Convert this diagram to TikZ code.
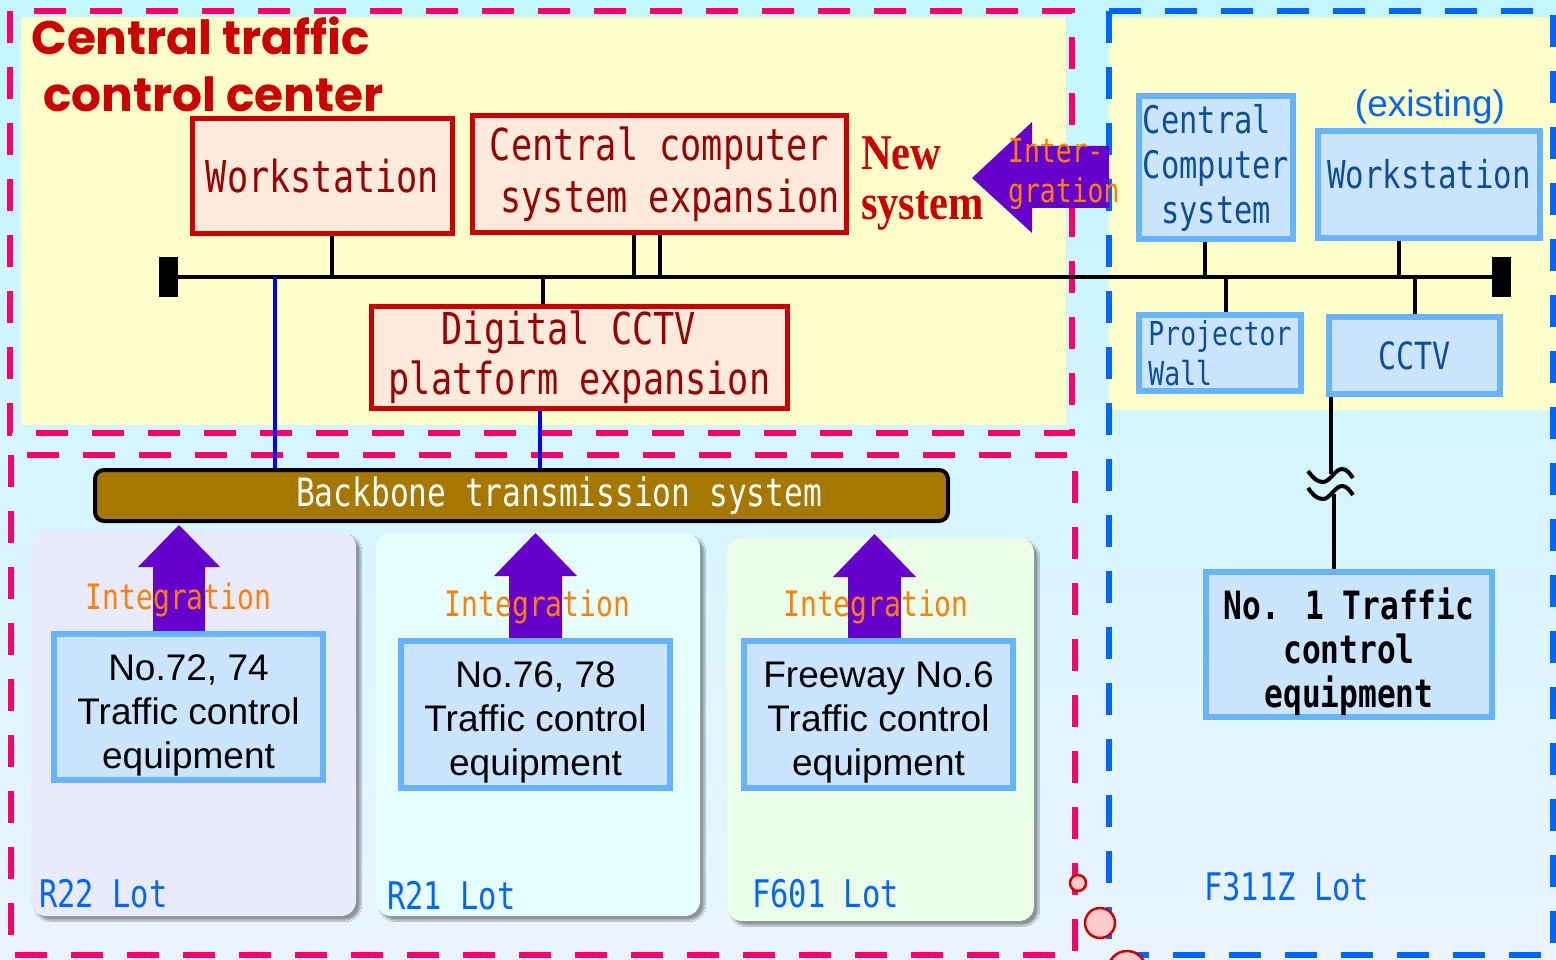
\documentclass[tikz,border=0pt]{standalone}
\usepackage{fontspec}
\usetikzlibrary{calc,shadows.blur}

\newfontfamily\gothic[FakeStretch=0.8]{DejaVu Sans Mono}
\newfontfamily\rounded{Poppins}
\newfontfamily\serifcond[FakeStretch=0.85]{Liberation Serif}
\newfontfamily\arialfont{Liberation Sans}

\definecolor{zonered}{HTML}{FF0066}
\definecolor{zoneblue}{HTML}{0066FF}
\definecolor{paleyellow}{HTML}{FFFFCC}
\definecolor{boxred}{HTML}{CC0000}
\definecolor{redfill}{HTML}{FFEBDB}
\definecolor{redtext}{HTML}{990000}
\definecolor{bluefill}{HTML}{CCE5FF}
\definecolor{blueedge}{HTML}{66B3FF}
\definecolor{bluetext}{HTML}{0B4F9C}
\definecolor{arrowpurple}{HTML}{6600CC}
\definecolor{intorange}{HTML}{FF8000}
\definecolor{trunkgold}{HTML}{A67800}
\definecolor{linkblue}{HTML}{0000FF}
\definecolor{lotA}{HTML}{EAEAFD}
\definecolor{lotB}{HTML}{E6FFFF}
\definecolor{lotC}{HTML}{EBFDE8}
\definecolor{ringfill}{HTML}{FFCCCC}
\definecolor{bgtop}{HTML}{C2F7FF}
\definecolor{bgmid}{HTML}{E2F6FF}
\definecolor{bgbot}{HTML}{EAF4FF}

\begin{document}
\begin{tikzpicture}[x=1pt,y=-1pt,
  redbox/.style={draw=boxred, line width=5pt, fill=redfill, inner sep=0pt,
    text=redtext, font=\gothic\fontsize{44}{52}\selectfont, align=center},
  bluebox/.style={draw=blueedge, line width=6pt, fill=bluefill, inner sep=0pt,
    text=bluetext, align=center},
  equip/.style={bluebox, text=black, font=\arialfont\fontsize{37}{44}\selectfont,
    text height=130pt, text depth=8pt},
  panel/.style={rounded corners=15pt, inner sep=0pt,
    blur shadow={shadow xshift=4pt, shadow yshift=-4pt, shadow blur steps=6, shadow opacity=40}},
  conn/.style={draw=black, line width=4pt},
  feed/.style={draw=linkblue, line width=4pt},
  zone/.style={line width=6pt, dash pattern=on 32pt off 24pt},
  fatarrow/.style={fill=arrowpurple},
  integ/.style={text=intorange, font=\gothic\fontsize{35}{40}\selectfont, inner sep=0pt},
  lot/.style={text=zoneblue, font=\gothic\fontsize{38}{44}\selectfont, inner sep=0pt, anchor=base west},
  endcap/.style={fill=black, minimum width=19pt, minimum height=40pt, inner sep=0pt},
  ring/.style={circle, draw=boxred, line width=2.5pt, fill=ringfill, inner sep=0pt},
]
\useasboundingbox (0,0) rectangle (1556,960);

% backdrop and zones
\shade[top color=bgtop, middle color=bgmid, bottom color=bgbot] (0,0) rectangle (1556,960);
\fill[paleyellow] (21,17) rectangle (1066,425);
\fill[paleyellow] (1109,17) rectangle (1556,410);
\draw[zone, zonered] (10,11) rectangle (1072,433);
\draw[zone, zonered] (11,455) rectangle (1075,955);
\draw[zone, zoneblue] (1109,11) rectangle (1553,955);

% lot panels
\node[panel, fill=lotA, minimum width=325pt, minimum height=384pt] (panA) at (193.5,724) {};
\node[panel, fill=lotB, minimum width=324pt, minimum height=383pt] (panB) at (538,724.5) {};
\node[panel, fill=lotC, minimum width=307pt, minimum height=383pt] (panC) at (880.5,729.5) {};

% title (base anchor sits on the last line)
\node[font=\rounded\bfseries\fontsize{47}{57}\selectfont, text=boxred, align=left,
  anchor=base west, inner sep=0pt] (ttl) at (31,112) {Central traffic\\\hspace*{12pt}control center};

% bus ends
\node[endcap] (endL) at (168.5,277) {};
\node[endcap] (endR) at (1501.5,277) {};

% new equipment
\node[redbox, minimum width=260pt, minimum height=115pt] (ws) at (322.5,176) {Workstation};
\node[redbox, minimum width=374pt, minimum height=117pt] (ccx) at (659.5,174)
  {Central computer\\\hphantom{x}system expansion};
\node[redbox, minimum width=416pt, minimum height=102pt, font=\gothic\fontsize{44}{50}\selectfont]
  (dcc) at (579.5,357.5) {Digital CCTV\hphantom{x}\\platform expansion};

% existing equipment
\node[bluebox, minimum width=154pt, minimum height=143pt, align=left,
  font=\gothic\fontsize{38}{45}\selectfont] (ccs) at (1216,167.5) {Central\\Computer\\\hphantom{x}system};
\node[bluebox, minimum width=222pt, minimum height=107pt, text depth=22pt,
  font=\gothic\fontsize{38.5}{45}\selectfont] (wsx) at (1429,184.5) {Workstation};
\node[bluebox, minimum width=162pt, minimum height=76pt, align=left,
  font=\gothic\fontsize{33}{40}\selectfont] (proj) at (1220,353) {Projector\\Wall};
\node[bluebox, minimum width=171pt, minimum height=77pt,
  font=\gothic\fontsize{37.5}{44}\selectfont] (cctv) at (1414.5,355.5) {CCTV};
\node[bluebox, text=black, minimum width=286pt, minimum height=145pt, text height=133pt, text depth=8pt,
  font=\gothic\bfseries\fontsize{39}{44}\selectfont] (no1) at (1349,644.5) {No. 1 Traffic\\control\\equipment};

% backbone
\node[draw=black, line width=4pt, fill=trunkgold, rounded corners=9pt, minimum width=853pt,
  minimum height=51pt, text=white, font=\gothic\fontsize{39}{44}\selectfont, inner sep=0pt]
  (bb) at (521.5,495.5) {\hphantom{xxxx}Backbone transmission system};

% bus and taps
\draw[conn] (endL.center) -- (endR.center);
\coordinate (wsTap) at ([xshift=9.5pt]ws.south);
\coordinate (ccxTapA) at ([xshift=-25.5pt]ccx.south);
\coordinate (ccxTapB) at ([xshift=0.5pt]ccx.south);
\coordinate (dccTop) at ([xshift=-36.5pt]dcc.north);
\coordinate (dccBot) at ([xshift=-39.5pt]dcc.south);
\coordinate (bbTap) at ([xshift=-246.5pt]bb.north);
\coordinate (ccsTap) at ([xshift=-11pt]ccs.south);
\coordinate (wsxTap) at ([xshift=-30pt]wsx.south);
\coordinate (projTap) at ([xshift=6pt]proj.north);
\coordinate (cctvTap) at (cctv.north);
\coordinate (cctvDown) at ([xshift=-83.5pt]cctv.south);
\coordinate (no1Tap) at ([xshift=-15pt]no1.north);
\coordinate (brkA) at (1331,474);
\coordinate (brkB) at (1334,494);

\draw[conn] (wsTap) -- (wsTap |- endL.center);
\draw[conn] (ccxTapA) -- (ccxTapA |- endL.center);
\draw[conn] (ccxTapB) -- (ccxTapB |- endL.center);
\draw[conn] (dccTop) -- (dccTop |- endL.center);
\draw[conn] (ccsTap) -- (ccsTap |- endL.center);
\draw[conn] (wsxTap) -- (wsxTap |- endL.center);
\draw[conn] (projTap) -- (projTap |- endL.center);
\draw[conn] (cctvTap) -- (cctvTap |- endL.center);
\draw[feed] (bbTap) -- (bbTap |- endL.center);
\draw[feed] (dccBot) -- (dccBot |- bb.north);

% CCTV link with break mark
\draw[conn] (cctvDown) -- (brkA);
\draw[conn] (brkB) -- (no1Tap);
\draw[line width=4pt] (1308,471) .. controls (1313,478) and (1317,482) .. (1323,482)
  .. controls (1330,482) and (1335,469) .. (1342,469) .. controls (1347,469) and (1350,474) .. (1353,478);
\draw[line width=4pt] (1308,488) .. controls (1313,495) and (1317,499) .. (1323,499)
  .. controls (1330,499) and (1335,486) .. (1342,486) .. controls (1347,486) and (1350,491) .. (1353,495);

% integration arrows
\fill[fatarrow] (972,178) -- (1032,122) -- (1032,146) -- (1109,146) -- (1109,208) -- (1032,208) -- (1032,233) -- cycle;
\fill[fatarrow] (179,525) -- (220,567) -- (205,567) -- (205,631) -- (153,631) -- (153,567) -- (138,567) -- cycle;
\fill[fatarrow] (535.5,533) -- (577,576) -- (562,576) -- (562,638) -- (509,638) -- (509,576) -- (494,576) -- cycle;
\fill[fatarrow] (874.5,534) -- (916,577) -- (901,577) -- (901,638) -- (848,638) -- (848,577) -- (833,577) -- cycle;

% lot equipment (drawn over arrow tails)
\node[equip, minimum width=269pt, minimum height=146pt] (eqA) at (188.5,707) {No.72, 74\\Traffic control\\equipment};
\node[equip, minimum width=269pt, minimum height=147pt] (eqB) at (535.5,714.5) {No.76, 78\\Traffic control\\equipment};
\node[equip, minimum width=269pt, minimum height=147pt] (eqC) at (878.5,714.5) {Freeway No.6\\Traffic control\\equipment};

% labels
\node[integ, anchor=base] (intA) at (178.5,609) {Integration};
\node[integ, anchor=base] (intB) at (537.5,616) {Integration};
\node[integ, anchor=base] (intC) at (876,616) {Integration};
\node[integ, font=\gothic\fontsize{33}{40}\selectfont, align=left, anchor=base west] (intX) at (1008,203) {Inter-\\gration};
\node[font=\serifcond\bfseries\fontsize{50}{50}\selectfont, text=boxred, align=left,
  anchor=base west, inner sep=0pt] (newsys) at (861,220) {New\\system};
\node[font=\arialfont\fontsize{37}{44}\selectfont, text=zoneblue, anchor=base, inner sep=0pt] (exist) at (1430,117) {(existing)};
\node[lot] (lotAt) at (39,907) {R22 Lot};
\node[lot] (lotBt) at (387,909) {R21 Lot};
\node[lot] (lotCt) at (752,907) {F601 Lot};
\node[lot] (lotDt) at (1204,900) {F311Z Lot};

% markers on the zone border
\node[ring, minimum size=16pt] (r1) at (1078,883) {};
\node[ring, minimum size=30pt] (r2) at (1100,923) {};
\node[ring, minimum size=38pt] (r3) at (1127,970) {};
\end{tikzpicture}
\end{document}
